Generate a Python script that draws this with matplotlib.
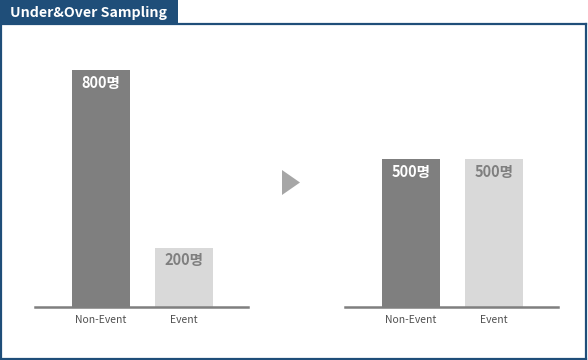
import matplotlib
matplotlib.use("Agg")
import matplotlib.pyplot as plt
from matplotlib.patches import Rectangle, Polygon
from matplotlib.lines import Line2D

plt.rcParams['font.family'] = ['Noto Sans CJK KR', 'DejaVu Sans']

# data
categories = ["Non-Event", "Event"]
before_counts = [800, 200]
after_counts = [500, 500]
title = "Under&Over Sampling"
unit = "명"

NAVY = "#1f4e79"
DARK = "#7f7f7f"
LIGHT = "#d9d9d9"
TICK_COLOR = "#505050"

W, H = 588, 360
fig = plt.figure(figsize=(W / 100, H / 100), dpi=100)


def px(x0, y0, w, h):
    # pixel box (top-left origin) -> figure fraction
    return [x0 / W, 1 - (y0 + h) / H, w / W, h / H]


def draw_bars(ax, counts):
    colors = [DARK, LIGHT]
    text_colors = ["white", DARK]
    xs = list(range(len(categories)))
    ax.bar(xs, counts, width=0.7, color=colors, zorder=2)
    for x, v, tc in zip(xs, counts, text_colors):
        ax.annotate(f"{v}{unit}", (x, v), xytext=(0, -9), textcoords="offset points",
                    ha="center", va="center", fontsize=10.5, fontweight="bold", color=tc)
    ax.set_xticks(xs)
    ax.set_xticklabels(categories, fontsize=7.5, color=TICK_COLOR, fontweight="medium")
    ax.tick_params(axis="x", length=0, pad=6)
    ax.set_yticks([])
    ax.set_xlim(-0.795, 1.77)
    ax.set_ylim(0, 1000)
    for s in ["top", "left", "right"]:
        ax.spines[s].set_visible(False)
    ax.spines["bottom"].set_color(DARK)
    ax.spines["bottom"].set_linewidth(1.8)
    ax.patch.set_alpha(0)


ax1 = fig.add_axes(px(35, 11, 213, 296))
draw_bars(ax1, before_counts)
ax2 = fig.add_axes(px(345, 11, 213, 296))
draw_bars(ax2, after_counts)

# arrow triangle between the charts
tri = [(282 / W, 1 - 170 / H), (282 / W, 1 - 195 / H), (300 / W, 1 - 182.5 / H)]
fig.patches.append(Polygon(tri, closed=True, transform=fig.transFigure,
                           facecolor="#a6a6a6", edgecolor="none"))

# frame and title tab
lw = 1.6
fig.lines.append(Line2D([1 / W, 1 / W], [1 - 24 / H, 1 - 358.5 / H], transform=fig.transFigure,
                        color=NAVY, linewidth=lw))
fig.lines.append(Line2D([586 / W, 586 / W], [1 - 24 / H, 1 - 358.5 / H], transform=fig.transFigure,
                        color=NAVY, linewidth=lw))
fig.lines.append(Line2D([1 / W, 586 / W], [1 - 358.5 / H, 1 - 358.5 / H], transform=fig.transFigure,
                        color=NAVY, linewidth=lw))
fig.lines.append(Line2D([0, 586 / W], [1 - 24 / H, 1 - 24 / H], transform=fig.transFigure,
                        color=NAVY, linewidth=lw))
fig.patches.append(Rectangle((0, 1 - 24 / H), 178 / W, 24 / H, transform=fig.transFigure,
                             facecolor=NAVY, edgecolor="none"))
fig.text(10 / W, 1 - 12.5 / H, title, color="white", fontsize=10.2, fontweight="bold",
         ha="left", va="center")

fig.savefig("out.png", dpi=100)
